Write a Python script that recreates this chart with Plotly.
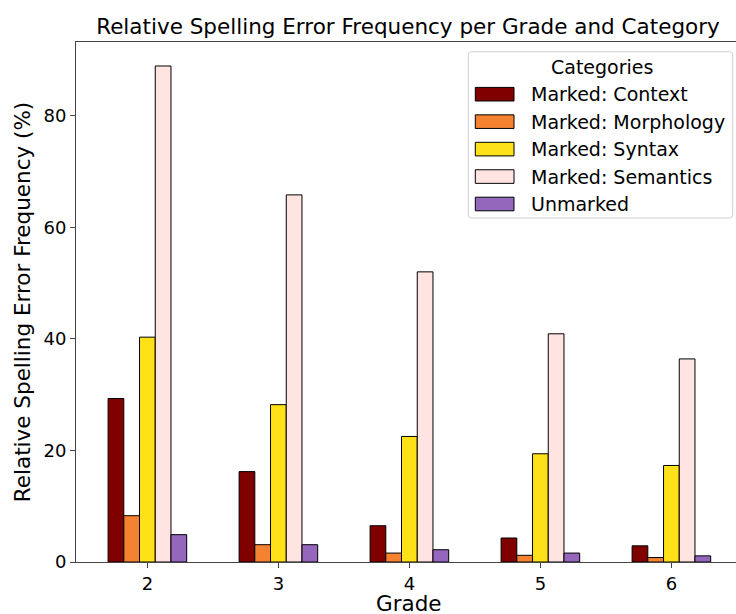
import plotly.graph_objects as go

grades = [2, 3, 4, 5, 6]
categories = ["Marked: Context", "Marked: Morphology", "Marked: Syntax",
              "Marked: Semantics", "Unmarked"]
context = [29.3, 16.2, 6.5, 4.3, 2.9]
morphology = [8.3, 3.1, 1.6, 1.2, 0.8]
syntax = [40.3, 28.2, 22.5, 19.4, 17.3]
semantics = [88.9, 65.8, 52.0, 40.9, 36.4]
unmarked = [4.9, 3.1, 2.2, 1.6, 1.1]
series = [context, morphology, syntax, semantics, unmarked]
colors = ["#800000", "#f58231", "#ffe119", "#ffe4e1", "#9467bd"]
y_ticks = [0, 20, 40, 60, 80]

W, H = 736, 614
L, R, T, B = 76, 0, 42, 52
PW, PH = W - L - R, H - T - B

def px(x):
    return (x - L) / PW

def py(y):
    return (H - B - y) / PH

FONT = "DejaVu Sans"

fig = go.Figure()
for name, vals, col in zip(categories, series, colors):
    fig.add_trace(go.Bar(
        x=grades, y=vals, name=name, showlegend=False,
        marker=dict(color=col, line=dict(color="#000000", width=1)),
    ))

# custom legend (matplotlib style)
shapes = []
annotations = []
x0, x1, y0, y1, r = 468.3, 732.7, 51.7, 218.0, 3.0
rx, ry = r / PW, r / PH
X0, X1, Y0, Y1 = px(x0), px(x1), py(y0), py(y1)
path = (f"M {X0+rx},{Y0} L {X1-rx},{Y0} Q {X1},{Y0} {X1},{Y0-ry} "
        f"L {X1},{Y1+ry} Q {X1},{Y1} {X1-rx},{Y1} L {X0+rx},{Y1} "
        f"Q {X0},{Y1} {X0},{Y1+ry} L {X0},{Y0-ry} Q {X0},{Y0} {X0+rx},{Y0} Z")
shapes.append(dict(type="path", xref="paper", yref="paper", path=path,
                   fillcolor="rgba(255,255,255,0.8)",
                   line=dict(color="#d0d0d0", width=1), layer="above"))
annotations.append(dict(x=px(601.7), y=py(67.0), xref="paper", yref="paper",
                        text="Categories", showarrow=False, xanchor="center",
                        yanchor="middle", font=dict(family=FONT, size=19, color="#000")))
row0, step = 94.2, 27.45
for i, (name, col) in enumerate(zip(categories, colors)):
    cy = row0 + i * step
    shapes.append(dict(type="rect", xref="paper", yref="paper",
                       x0=px(475.3), x1=px(514.0), y0=py(cy - 6.8), y1=py(cy + 6.8),
                       fillcolor=col, line=dict(color="#000000", width=1), layer="above"))
    annotations.append(dict(x=px(528.5), y=py(cy), xref="paper", yref="paper",
                            text=name, showarrow=False, xanchor="left", yanchor="middle",
                            font=dict(family=FONT, size=19, color="#000")))

# x-axis title
annotations.append(dict(x=px(409.5), y=py(603.5), xref="paper", yref="paper",
                        text="Grade", showarrow=False, xanchor="center", yanchor="middle",
                        font=dict(family=FONT, size=21.5, color="#000")))

fig.update_layout(
    width=W, height=H,
    margin=dict(l=L, r=R, t=T, b=B, autoexpand=False),
    paper_bgcolor="white", plot_bgcolor="white",
    barmode="group", bargap=0.4, bargroupgap=0,
    font=dict(family=FONT, color="#000"),
    title=dict(text="Relative Spelling Error Frequency per Grade and Category",
               x=408 / W, xref="container", xanchor="center",
               y=1 - 26 / H, yref="container", yanchor="middle",
               font=dict(family=FONT, size=21.5, color="#000")),
    xaxis=dict(range=[1.455, 1.455 + PW / 131.0], tickvals=grades,
               ticktext=[str(g) for g in grades], automargin=False,
               showgrid=False, zeroline=False, showline=True, linecolor="#444",
               linewidth=1, mirror=True, ticks="outside", ticklen=5, tickcolor="#444",
               tickfont=dict(family=FONT, size=18, color="#000")),
    yaxis=dict(range=[0, 93.2], tickvals=y_ticks, showgrid=False, zeroline=False,
               automargin=False,
               showline=True, linecolor="#444", linewidth=1, ticks="outside",
               ticklen=5, tickcolor="#444",
               tickfont=dict(family=FONT, size=18, color="#000"),
               title=dict(text="Relative Spelling Error Frequency (%)",
                          font=dict(family=FONT, size=21.5, color="#000"), standoff=6)),
    shapes=shapes, annotations=annotations,
)

fig.write_html("out.html", config={"displayModeBar": False},
               post_script="document.body.style.margin='0';document.body.style.overflow='hidden';")
